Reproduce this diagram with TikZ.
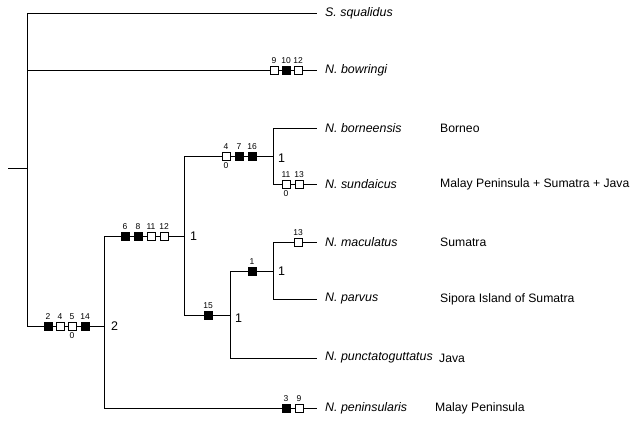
\documentclass[tikz,border=0pt]{standalone}
\usepackage{fontspec}
\setmainfont{Liberation Sans}
\usetikzlibrary{positioning,calc}
\tikzstyle{line} = [draw,line width=0.9pt]
\tikzstyle{taxon} = [anchor=west,inner xsep=8pt,inner ysep=0pt,font=\itshape\fontsize{12.4}{14}\selectfont]
\tikzstyle{area} = [anchor=west,inner sep=0pt,font=\fontsize{12.2}{14}\selectfont]
\tikzstyle{support} = [inner sep=0pt,font=\fontsize{12.5}{14}\selectfont]
\tikzstyle{chr} = [inner sep=0.5pt,font=\fontsize{8.5}{9}\selectfont]
\tikzstyle{gain} = [draw,line width=0.9pt,fill=black,minimum size=8pt,inner sep=0pt]
\tikzstyle{loss} = [draw,line width=0.9pt,fill=white,minimum size=8pt,inner sep=0pt]

\begin{document}
\begin{tikzpicture}[x=1pt,y=-1pt,node distance=5pt,label distance=1pt]
    \useasboundingbox (0,0) rectangle (631,425);
    % inner nodes of the tree
    \coordinate (base) at (8,168);
    \coordinate (n0) at (27,168);
    \coordinate (n1) at (104,326);
    \coordinate (n2) at (184,236);
    \coordinate (n3) at (273,156);
    \coordinate (n4) at (184,315);
    \coordinate (n5) at (230,315);
    \coordinate (n6) at (273,271);
    % terminal taxa
    \node[taxon] (squal) at (317,13) {S. squalidus};
    \node[taxon] (bowr) at (317,70) {N. bowringi};
    \node[taxon] (born) at (317,128) {N. borneensis};
    \node[taxon] (sund) at (317,184) {N. sundaicus};
    \node[taxon] (macu) at (317,242) {N. maculatus};
    \node[taxon] (parv) at (317,299) {N. parvus};
    \node[taxon] (punc) at (317,358) {N. punctatoguttatus};
    \node[taxon] (peni) at (317,408) {N. peninsularis};
    % distributions
    \node[area] (aborn) at (440,128) {Borneo};
    \node[area] (asund) at (440,184) {Malay Peninsula + Sumatra + Java};
    \node[area] (amacu) at (440,242) {Sumatra};
    \node[area] (aparv) at (440,299) {Sipora Island of Sumatra};
    \node[area] (apunc) at (439,358) {Java};
    \node[area] (apeni) at (435,408) {Malay Peninsula};
    % branches
    \path [line] (base) -- (n0);
    \path [line] (n0) |- (squal.west);
    \path [line] (n0) |- (bowr.west);
    \path [line] (n0) |- (n1);
    \path [line] (n1) |- (n2);
    \path [line] (n1) |- (peni.west);
    \path [line] (n2) |- (n3);
    \path [line] (n2) -- (n4) -- (n5);
    \path [line] (n3) |- (born.west);
    \path [line] (n3) |- (sund.west);
    \path [line] (n5) |- (n6);
    \path [line] (n5) |- (punc.west);
    \path [line] (n6) |- (macu.west);
    \path [line] (n6) |- (parv.west);
    % support values
    \node[support, right=7pt of n1] (s1) {2};
    \node[support, right=6pt of n2] (s2) {1};
    \node[support, right=5pt of n3, yshift=-2pt] (s3) {1};
    \node[support, right=5pt of n5, yshift=-3pt] (s5) {1};
    \node[support, right=5pt of n6] (s6) {1};
    % character changes
    \foreach \x/\c/\s in {274/9/loss,286/10/gain,298/12/loss}
        \node[\s, label={[chr]above:\c}] (bw\c) at (\x,70) {};
    \foreach \x/\c/\s in {48/2/gain,60/4/loss,85/14/gain}
        \node[\s, label={[chr]above:\c}] (r\c) at (\x,326) {};
    \node[loss, label={[chr]above:5}, label={[chr]below:0}] (r5) at (72,326) {};
    \foreach \x/\c/\s in {125/6/gain,138/8/gain,151/11/loss,164/12/loss}
        \node[\s, label={[chr]above:\c}] (m\c) at (\x,236) {};
    \node[loss, label={[chr]above:4}, label={[chr]below:0}] (k4) at (226,156) {};
    \foreach \x/\c/\s in {239/7/gain,252/16/gain}
        \node[\s, label={[chr]above:\c}] (k\c) at (\x,156) {};
    \node[loss, label={[chr]above:11}, label={[chr]below:0}] (su11) at (286,184) {};
    \node[loss, label={[chr]above:13}] (su13) at (299,184) {};
    \node[gain, label={[chr]above:15}] (p15) at (208,315) {};
    \node[gain, label={[chr]above:1}] (q1) at (252,271) {};
    \node[loss, label={[chr]above:13}] (ma13) at (298,242) {};
    \node[gain, label={[chr]above:3}] (pe3) at (286,408) {};
    \node[loss, label={[chr]above:9}] (pe9) at (299,408) {};
\end{tikzpicture}
\end{document}
